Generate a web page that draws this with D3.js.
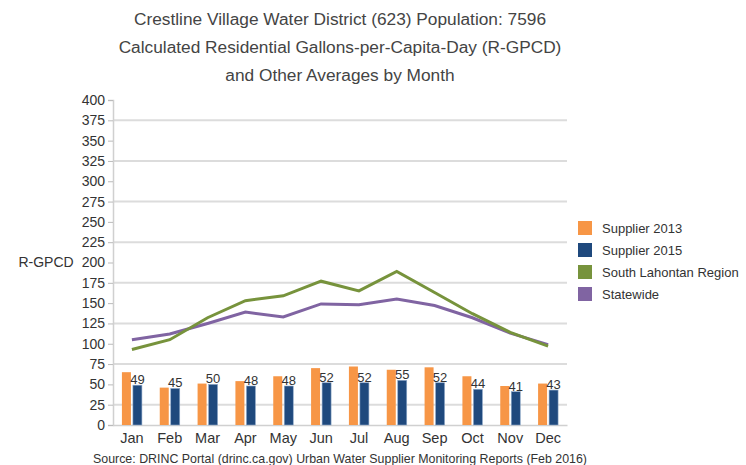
<!DOCTYPE html>
<html>
<head>
<meta charset="utf-8">
<script src="https://cdn.jsdelivr.net/npm/d3@7"></script>
<style>
  body { margin: 0; background: #fff; }
  svg text { font-family: "Liberation Sans", Arial, sans-serif; fill: #333; }
</style>
</head>
<body>
<svg id="chart"></svg>
<script>
// chart data
const months = ["Jan", "Feb", "Mar", "Apr", "May", "Jun", "Jul", "Aug", "Sep", "Oct", "Nov", "Dec"];
const supplier2013 = [65, 46, 51, 54, 60, 70, 72, 68, 71, 60, 48, 51];
const supplier2015 = [49, 45, 50, 48, 48, 52, 52, 55, 52, 44, 41, 43];
const southLahontan = [93, 105, 132, 153, 159, 177, 165, 189, 163, 137, 114, 97];
const statewide = [105, 112, 125, 139, 133, 149, 148, 155, 147, 132, 113, 99];
const yTicks = d3.range(0, 401, 25);
const legendNames = ["Supplier 2013", "Supplier 2015", "South Lahontan Region", "Statewide"];
const legendColors = ["#F79646", "#1F497D", "#77933C", "#8064A2"];
const titleLines = [
  "Crestline Village Water District (623) Population: 7596",
  "Calculated Residential Gallons-per-Capita-Day (R-GPCD)",
  "and Other Averages by Month"
];

let width = 746, height = 465;
let plotLeft = 113, plotRight = 567, plotTop = 100, plotBottom = 425;

let svg = d3.select('#chart').attr('width', width).attr('height', height);

let xScale = d3.scaleBand().domain(months).range([plotLeft, plotRight]);
let yScale = d3.scaleLinear().domain([0, 400]).range([plotBottom, plotTop]);

// grid lines (only every other tick)
svg.append('g').selectAll('line')
  .data(yTicks.filter(d => d % 50 == 25))
  .enter().append('line')
  .attr('x1', plotLeft).attr('x2', plotRight)
  .attr('y1', d => yScale(d)).attr('y2', d => yScale(d))
  .style('stroke', '#dcdcdc').style('stroke-width', 2);

// y axis
let yAxis = svg.append('g')
  .attr('transform', `translate(${plotLeft},0)`)
  .call(d3.axisLeft(yScale).tickValues(yTicks).tickSize(5).tickPadding(3));
yAxis.select('.domain').style('stroke', '#d0d0d0').style('stroke-width', 1.5);
yAxis.selectAll('.tick line').style('stroke', '#bbb');
yAxis.selectAll('.tick text').style('font-size', '14px').style('fill', '#333');

// x axis
let xAxis = svg.append('g')
  .attr('transform', `translate(0,${plotBottom})`)
  .call(d3.axisBottom(xScale).tickSize(0).tickPadding(8));
xAxis.select('.domain').style('stroke', '#d0d0d0').style('stroke-width', 1.5);
xAxis.selectAll('.tick text').style('font-size', '14.5px').style('fill', '#333');

// bars
let barW = 9, gap = 2;
let groupLeft = d => xScale(d) + xScale.bandwidth() / 2 - barW - gap / 2;

svg.append('g').selectAll('rect')
  .data(months)
  .enter().append('rect')
  .attr('x', d => groupLeft(d))
  .attr('y', (d, i) => yScale(supplier2013[i]))
  .attr('width', barW)
  .attr('height', (d, i) => plotBottom - yScale(supplier2013[i]))
  .style('fill', legendColors[0]);

svg.append('g').selectAll('rect')
  .data(months)
  .enter().append('rect')
  .attr('x', d => groupLeft(d) + barW + gap)
  .attr('y', (d, i) => yScale(supplier2015[i]))
  .attr('width', barW)
  .attr('height', (d, i) => plotBottom - yScale(supplier2015[i]))
  .style('fill', legendColors[1])
  .style('stroke', '#8fa9c9').style('stroke-width', 0.6);

// value labels on 2015 bars
svg.append('g').selectAll('text')
  .data(months)
  .enter().append('text')
  .attr('x', d => groupLeft(d) + barW + gap + barW / 2)
  .attr('y', (d, i) => yScale(supplier2015[i]) - 1)
  .attr('text-anchor', 'middle')
  .style('font-size', '13px')
  .text((d, i) => supplier2015[i]);

// lines
let line = d3.line()
  .x((d, i) => xScale(months[i]) + xScale.bandwidth() / 2)
  .y(d => yScale(d));

svg.append('path').datum(statewide)
  .attr('d', line)
  .style('fill', 'none').style('stroke', legendColors[3]).style('stroke-width', 3);
svg.append('path').datum(southLahontan)
  .attr('d', line)
  .style('fill', 'none').style('stroke', legendColors[2]).style('stroke-width', 3);

// y label
svg.append('text')
  .attr('x', 46).attr('y', 267)
  .attr('text-anchor', 'middle')
  .style('font-size', '14px')
  .text('R-GPCD');

// title
svg.append('g').selectAll('text')
  .data(titleLines)
  .enter().append('text')
  .attr('x', 340)
  .attr('y', (d, i) => 25 + i * 28)
  .attr('text-anchor', 'middle')
  .style('font-size', '17.3px')
  .style('fill', '#444')
  .text(d => d);

// legend
let legend = svg.append('g').attr('transform', 'translate(578,221)');
legendNames.forEach(function(name, i) {
  legend.append('rect')
    .attr('x', 0).attr('y', i * 22)
    .attr('width', 14).attr('height', 14)
    .style('fill', legendColors[i]);
  legend.append('text')
    .attr('x', 24).attr('y', i * 22 + 12)
    .style('font-size', '13px')
    .text(name);
});

// source note
svg.append('text')
  .attr('x', 93).attr('y', 463)
  .attr('text-anchor', 'start')
  .style('font-size', '12.4px')
  .text('Source: DRINC Portal (drinc.ca.gov) Urban Water Supplier Monitoring Reports (Feb 2016)');
</script>
</body>
</html>
